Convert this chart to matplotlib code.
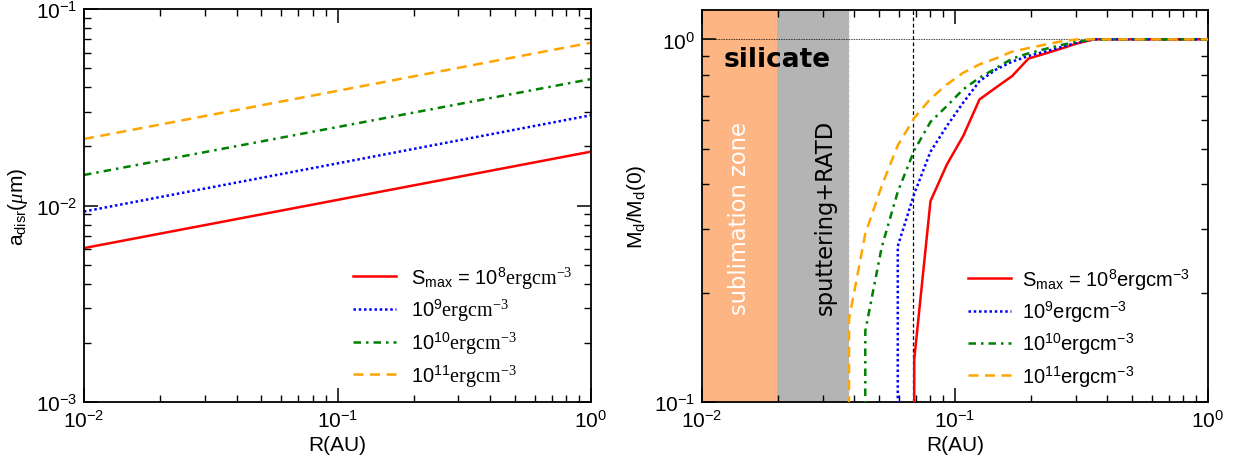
import matplotlib
matplotlib.use("Agg")
import matplotlib.pyplot as plt

plt.rcParams.update({
    "font.family": ["Liberation Sans", "DejaVu Sans"],
    "font.size": 15,
    "mathtext.fontset": "custom",
    "mathtext.rm": "Liberation Serif",
    "mathtext.it": "Liberation Serif:italic",
    "mathtext.sf": "Liberation Sans",
    "mathtext.bf": "Liberation Sans:bold",
    "axes.linewidth": 1.3,
    "xtick.direction": "in",
    "ytick.direction": "in",
    "xtick.top": True,
    "ytick.right": True,
    "xtick.major.size": 10,
    "ytick.major.size": 10,
    "xtick.minor.size": 5,
    "ytick.minor.size": 5,
    "xtick.major.width": 1.1,
    "ytick.major.width": 1.1,
    "xtick.minor.width": 1.0,
    "ytick.minor.width": 1.0,
    "xtick.major.pad": 5,
    "ytick.major.pad": 5,
})

# ---- disruption size vs distance ----
r_disr = [0.01, 0.1, 1.0]
a_s8 = [0.00607, 0.01068, 0.0188]
a_s9 = [0.00932, 0.01638, 0.0288]
a_s10 = [0.0143, 0.02508, 0.0440]
a_s11 = [0.0218, 0.03833, 0.0674]

# ---- remaining dust mass fraction vs distance ----
r_mass = [0.0328, 0.0381, 0.0442, 0.0513, 0.0594, 0.0690, 0.0800, 0.0929,
          0.1077, 0.1250, 0.1450, 0.1682, 0.1951, 0.2264, 0.2627, 0.3048,
          0.3536, 0.4103, 0.4760, 0.5523, 0.6407, 0.7434, 0.8625, 1.0]
m_s8 = [0, 0, 0, 0, 0, 0.131, 0.358, 0.452, 0.541, 0.683, 0.736, 0.792,
        0.885, 0.913, 0.943, 0.975, 1, 1, 1, 1, 1, 1, 1, 1]
m_s9 = [0, 0, 0, 0, 0.269, 0.375, 0.49, 0.577, 0.669, 0.767, 0.825, 0.868,
        0.900, 0.925, 0.952, 0.980, 1, 1, 1, 1, 1, 1, 1, 1]
m_s10 = [0, 0, 0.157, 0.267, 0.38, 0.494, 0.592, 0.655, 0.728, 0.784, 0.832,
         0.885, 0.915, 0.940, 0.965, 0.985, 1, 1, 1, 1, 1, 1, 1, 1]
m_s11 = [0, 0.169, 0.291, 0.394, 0.51, 0.607, 0.686, 0.751, 0.809, 0.853,
         0.886, 0.925, 0.946, 0.967, 0.987, 1.0, 1, 1, 1, 1, 1, 1, 1, 1]

r_sub_edge = 0.0198      # sublimation front
r_sput_edge = 0.0381     # sputtering + RATD region edge
r_marker = 0.0682        # reference radius

exps = ["8", "9", "10", "11"]
colors = ["red", "blue", "green", "orange"]
styles = ["-", (0, (1, 1.1)), (0, (3, 2, 1, 2)), (0, (4, 2.6))]
widths = [1.8, 1.8, 1.8, 1.8]

fig = plt.figure(figsize=(12.37, 4.56), dpi=100)
ax1 = fig.add_axes([84 / 1237, 53 / 456, 507 / 1237, 393 / 456])
ax2 = fig.add_axes([702 / 1237, 53 / 456, 506 / 1237, 392 / 456])

# left panel
for i, a in enumerate([a_s8, a_s9, a_s10, a_s11]):
    if i == 0:
        lab = r"S$_\mathsf{max}$ = 10$^\mathsf{8}$$\mathrm{ergcm}^{-3}$"
    else:
        lab = r"10$^\mathsf{%s}$$\mathrm{ergcm}^{-3}$" % exps[i]
    ax1.plot(r_disr, a, color=colors[i], ls=styles[i], lw=widths[i], label=lab)

ax1.set_xscale("log")
ax1.set_yscale("log")
ax1.set_xlim(1e-2, 1)
ax1.set_ylim(1e-3, 1e-1)
ax1.set_xlabel("R(AU)", labelpad=3)
ax1.set_ylabel(r"a$_\mathsf{disr}$($\mu$m)", labelpad=4)
leg1 = ax1.legend(loc="lower right", frameon=False, handlelength=2.1,
                  labelspacing=0.32, handletextpad=0.78, fontsize=14.5,
                  bbox_to_anchor=(1.0, -0.012))

# right panel
ax2.axvspan(1e-2, r_sub_edge, color="#FDB683", lw=0, zorder=0)
ax2.axvspan(r_sub_edge, r_sput_edge, color="#B4B4B4", lw=0, zorder=0)
ax2.axvline(r_sput_edge, color="#e6e6e6", ls=(0, (2, 2)), lw=0.9, zorder=1)
ax2.axhline(1.0, color="black", ls=(0, (1, 1)), lw=0.6, zorder=1)
ax2.axvline(r_marker, color="black", ls=(0, (3, 2)), lw=0.9, zorder=1)

for i, m in enumerate([m_s8, m_s9, m_s10, m_s11]):
    if i == 0:
        lab = r"S$_\mathsf{max}$ = 10$^\mathsf{8}$$\mathsf{ergcm^{-3}}$"
    else:
        lab = r"10$^\mathsf{%s}$$\mathsf{ergcm^{-3}}$" % exps[i]
    ax2.plot(r_mass, m, color=colors[i], ls=styles[i], lw=widths[i],
             label=lab, zorder=3)

ax2.set_xscale("log")
ax2.set_yscale("log", nonpositive="clip")
ax2.set_xlim(1e-2, 1)
ax2.set_ylim(0.1, 1.205)
ax2.set_xlabel("R(AU)", labelpad=3)
ax2.set_ylabel(r"M$_\mathsf{d}$/M$_\mathsf{d}$(0)", labelpad=4)
leg2 = ax2.legend(loc="lower right", frameon=False, handlelength=2.1,
                  labelspacing=0.32, handletextpad=0.55, fontsize=14.5,
                  bbox_to_anchor=(1.0, -0.012))

ax2.text(0.0198, 0.844, "silicate", family="DejaVu Sans", weight="bold",
         fontsize=19, ha="center", va="baseline", zorder=4)
ax2.text(0.0141, 0.175, "sublimation zone", family="DejaVu Sans",
         fontsize=16.3, color="white", rotation=90, ha="center", va="bottom",
         zorder=4)
ax2.text(0.0308, 0.175, "sputtering+RATD", family="DejaVu Sans",
         fontsize=16.3, color="black", rotation=90, ha="center", va="bottom",
         zorder=4)

for ax in (ax1, ax2):
    ax.tick_params(which="both", top=True, right=True)

fig.savefig("out.png", dpi=100)
